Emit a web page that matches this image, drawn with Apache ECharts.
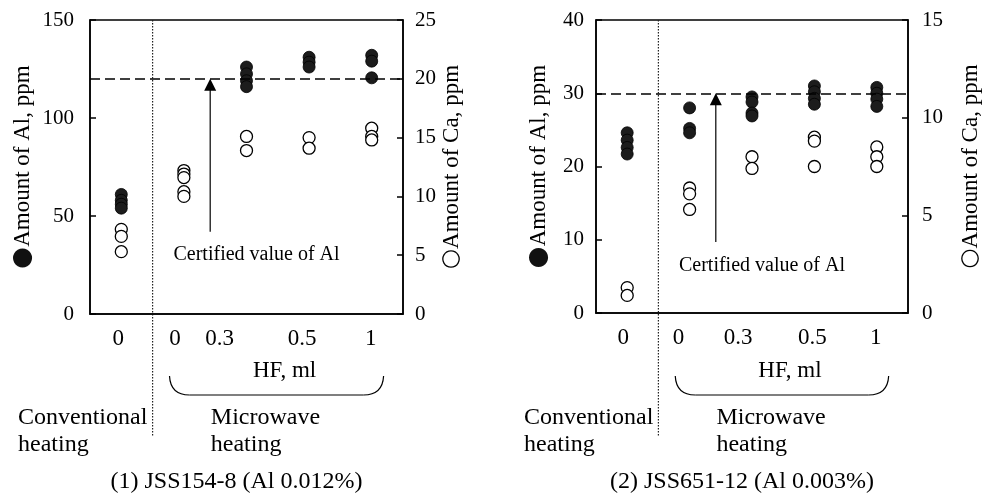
<!DOCTYPE html>
<html>
<head>
<meta charset="utf-8">
<script src="https://cdn.jsdelivr.net/npm/echarts@6/dist/echarts.min.js"></script>
<style>
html,body{margin:0;padding:0;background:#fff;}
#c{width:987px;height:504px;}
</style>
</head>
<body>
<div id="c"></div>
<script>
// ---- data ----
const categories = ['0', '0', '0.3', '0.5', '1'];
// chart (1) JSS154-8
const alLeft = [[61, 58, 56, 54], [], [126, 122.5, 119, 116], [131, 128.5, 126], [132, 129, 120.5]];
const caLeft = [[7.2, 6.6, 5.3], [12.2, 11.9, 11.6, 10.4, 10.0], [15.1, 13.9], [15.0, 14.1], [15.8, 15.1, 14.8]];
// chart (2) JSS651-12
const alRight = [[24.6, 23.6, 22.6, 21.7], [28.0, 25.2, 24.6], [29.5, 28.8, 27.3, 26.9], [31.0, 30.2, 29.3, 28.5], [30.8, 30.0, 29.2, 28.2]];
const caRight = [[1.3, 0.9], [6.4, 6.1, 5.3], [8.0, 7.4], [9.0, 8.8, 7.5], [8.5, 8.0, 7.5]];
const certifiedAl = [120, 30];
const alAxisMax = [150, 40];
const alAxisInterval = [50, 10];
const caAxisMax = [25, 15];
const caAxisInterval = [5, 5];
const captions = ['(1) JSS154-8 (Al 0.012%)', '(2) JSS651-12 (Al 0.003%)'];

// ---- styling ----
const FONT = 'Liberation Serif';
const labelShift = [[-3, -9, -27, -7, -1], [-4, -11, -14, -2, -1]];
const chart = echarts.init(document.getElementById('c'), null, {renderer: 'canvas'});

function toPairs(groups) {
  const out = [];
  groups.forEach((vals, i) => vals.forEach(v => out.push([i, v])));
  return out;
}

const grids = [
  {left: 90, top: 20, width: 313, height: 294},
  {left: 596, top: 20, width: 312, height: 293}
];
const axisLineStyle = {color: '#000', width: 1.5};
const xAxes = [], yAxes = [], series = [];
const leftNameGap = [55, 45];
const rightNameGap = [37, 51];
const leftLabelMargin = [16, 12];
const rightLabelMargin = [12, 14];

[0, 1].forEach(g => {
  const rich = {};
  labelShift[g].forEach((s, i) => {
    rich['s' + i] = {fontFamily: FONT, fontSize: 23, color: '#000', padding: s < 0 ? [0, -2 * s, 0, 0] : [0, 0, 0, 2 * s]};
  });
  xAxes.push({
    gridIndex: g, type: 'category', data: categories, boundaryGap: true,
    axisLine: {lineStyle: axisLineStyle},
    axisTick: {inside: true, length: 6, lineStyle: axisLineStyle},
    axisLabel: {color: '#000', fontFamily: FONT, fontSize: 23, margin: 13, interval: 0,
      formatter: (v, i) => '{s' + i + '|' + v + '}', rich: rich},
    splitLine: {show: false}
  });
  yAxes.push({
    gridIndex: g, type: 'value', position: 'left', min: 0, max: alAxisMax[g], interval: alAxisInterval[g],
    axisLine: {show: true, lineStyle: axisLineStyle},
    axisTick: {show: true, inside: true, length: 6, lineStyle: axisLineStyle},
    axisLabel: {color: '#000', fontFamily: FONT, fontSize: 21, margin: leftLabelMargin[g]},
    splitLine: {show: false},
    name: '{c|●}Amount of Al, ppm', nameLocation: 'middle', nameRotate: 90, nameGap: leftNameGap[g],
    nameTextStyle: {color: '#000', fontFamily: FONT, fontSize: 23,
      rich: {c: {fontSize: 25, color: '#111', fontFamily: 'DejaVu Sans'}}}
  });
  yAxes.push({
    gridIndex: g, type: 'value', position: 'right', min: 0, max: caAxisMax[g], interval: caAxisInterval[g],
    axisLine: {show: true, lineStyle: axisLineStyle},
    axisTick: {show: true, inside: true, length: 6, lineStyle: axisLineStyle},
    axisLabel: {color: '#000', fontFamily: FONT, fontSize: 21, margin: rightLabelMargin[g]},
    splitLine: {show: false},
    name: '{c|○}Amount of Ca, ppm', nameLocation: 'middle', nameRotate: 90, nameGap: rightNameGap[g],
    nameTextStyle: {color: '#000', fontFamily: FONT, fontSize: 23,
      rich: {c: {fontSize: 23, color: '#000', fontFamily: 'DejaVu Sans'}}}
  });
  const al = g === 0 ? alLeft : alRight;
  const ca = g === 0 ? caLeft : caRight;
  series.push({
    type: 'scatter', xAxisIndex: g, yAxisIndex: g * 2 + 1, data: toPairs(ca),
    symbol: 'circle', symbolSize: 12,
    itemStyle: {color: '#fff', borderColor: '#000', borderWidth: 1.3, opacity: 1},
    silent: true
  });
  series.push({
    type: 'scatter', xAxisIndex: g, yAxisIndex: g * 2, data: toPairs(al),
    symbol: 'circle', symbolSize: 12,
    itemStyle: {color: '#1c1c1c', borderColor: '#000', borderWidth: 0.8, opacity: 1},
    silent: true,
    markLine: {
      silent: true, symbol: 'none', animation: false,
      label: {show: false},
      lineStyle: {type: [10, 5], color: '#000', width: 1.5},
      data: [{yAxis: certifiedAl[g]}]
    }
  });
});

chart.setOption({
  animation: false,
  backgroundColor: '#fff',
  grid: grids.map(r => Object.assign({show: true, borderColor: '#000', borderWidth: 1.5, backgroundColor: 'transparent'}, r)),
  xAxis: xAxes,
  yAxis: yAxes,
  series: series
});

// ---- annotations positioned through the axes ----
function px(g, idx) {
  const p0 = chart.convertToPixel({xAxisIndex: g}, 0);
  const p1 = chart.convertToPixel({xAxisIndex: g}, 1);
  return p0 + (p1 - p0) * idx;
}
function py(yAxisIndex, v) {
  return chart.convertToPixel({yAxisIndex: yAxisIndex}, v);
}
const textStyle = (txt, x, y, size, align) => ({
  type: 'text', x: x, y: y, silent: true,
  style: {text: txt, fill: '#000', font: size + 'px "' + FONT + '"', textAlign: align || 'left', textVerticalAlign: 'middle'}
});
const arrowFrom = [42, 9.7];
const certTextY = [30, 6.5];
const elements = [];
[0, 1].forEach(g => {
  const top = grids[g].top;
  const xDiv = px(g, 0.5);
  elements.push({type: 'line', silent: true, shape: {x1: xDiv, y1: top, x2: xDiv, y2: 436},
    style: {stroke: '#222', lineWidth: 1.2, lineDash: [1.5, 1.5]}});
  // arrow to certified value
  const xa = px(g, 1.42);
  const yTip = py(g * 2, certifiedAl[g]);
  const yStart = py(g * 2, arrowFrom[g]);
  elements.push({type: 'line', silent: true, shape: {x1: xa, y1: yStart, x2: xa, y2: yTip + 10},
    style: {stroke: '#000', lineWidth: 1.2}});
  elements.push({type: 'polygon', silent: true, shape: {points: [[xa, yTip], [xa - 6, yTip + 12], [xa + 6, yTip + 12]]},
    style: {fill: '#000'}});
  elements.push(textStyle('Certified value of Al', px(g, 2.16), py(g * 2, certTextY[g]), 20, 'center'));
  // HF bracket
  const bx1 = px(g, 0.77), bx2 = px(g, 4.19);
  elements.push(textStyle('HF, ml', (bx1 + bx2) / 2 + 8, 371, 23, 'center'));
  const bTop = 376, bBot = 395, r = 20;
  elements.push({type: 'bezierCurve', silent: true, shape: {x1: bx1, y1: bTop, x2: bx1 + r, y2: bBot, cpx1: bx1 + 1, cpy1: bBot}, style: {stroke: '#000', lineWidth: 1.2, fill: null}});
  elements.push({type: 'line', silent: true, shape: {x1: bx1 + r, y1: bBot, x2: bx2 - r, y2: bBot}, style: {stroke: '#000', lineWidth: 1.2}});
  elements.push({type: 'bezierCurve', silent: true, shape: {x1: bx2 - r, y1: bBot, x2: bx2, y2: bTop, cpx1: bx2 - 1, cpy1: bBot}, style: {stroke: '#000', lineWidth: 1.2, fill: null}});
  // heating labels
  const gl = grids[g].left;
  elements.push(textStyle('Conventional', gl - 72, 418, 24, 'left'));
  elements.push(textStyle('heating', gl - 72, 445, 24, 'left'));
  const mx = px(g, 1.43);
  elements.push(textStyle('Microwave', mx, 418, 24, 'left'));
  elements.push(textStyle('heating', mx, 445, 24, 'left'));
  elements.push(textStyle(captions[g], grids[g].left + grids[g].width / 2 - 10, 482, 24, 'center'));
});
chart.setOption({graphic: {elements: elements}});
</script>
</body>
</html>
